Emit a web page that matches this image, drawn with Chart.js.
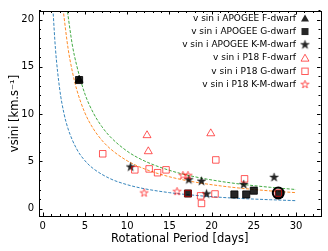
<!DOCTYPE html>
<html>
<head>
<meta charset="utf-8">
<script src="https://cdn.jsdelivr.net/npm/chart.js@4.4.0/dist/chart.umd.min.js"></script>
<style>
  html, body { margin: 0; padding: 0; background: #fff; }
</style>
</head>
<body>
<canvas id="vsiniChart" width="328" height="251"></canvas>
<script>
// axis ticks
const xTicks = [0, 5, 10, 15, 20, 25, 30];
const yTicks = [0, 5, 10, 15, 20];

// APOGEE measurements (rotation period in days, vsini in km/s)
const apogeeF_P = [4.3];
const apogeeF_v = [13.6];
const apogeeG_P = [4.3, 17.2, 22.7, 24.1, 25.0, 28.0];
const apogeeG_v = [13.6, 1.6, 1.5, 1.5, 1.9, 1.55];
const apogeeKM_P = [10.4, 17.3, 18.8, 19.4, 23.8, 27.4];
const apogeeKM_v = [4.4, 3.05, 2.9, 1.55, 2.55, 3.3];

// P18 measurements
const p18F_P = [12.35, 12.5, 19.9];
const p18F_v = [7.75, 6.05, 7.95];
const p18G_P = [7.1, 10.9, 12.6, 13.6, 14.6, 17.2, 18.7, 18.8, 20.4, 20.5, 23.9, 27.9];
const p18G_v = [5.8, 4.1, 4.2, 3.8, 4.1, 1.6, 1.35, 0.55, 1.55, 5.15, 3.15, 1.65];
const p18KM_P = [12.0, 15.9, 16.6, 17.2];
const p18KM_v = [1.65, 1.8, 3.5, 3.5];

// circled star
const circled_P = [27.9];
const circled_v = [1.65];

// dashed reference curves
const blueCurve_P = [1.2, 1.5, 2, 2.5, 3, 4, 5, 6, 8, 10, 12, 15, 18, 21, 24, 27, 30];
const blueCurve_v = [21.1, 16.9, 12.65, 10.1, 8.43, 6.33, 5.06, 4.22, 3.16, 2.53, 2.11, 1.69, 1.41, 1.2, 1.05, 0.94, 0.84];
const orangeCurve_P = [2.4, 3, 3.5, 4, 5, 6, 7, 8, 10, 12, 15, 18, 21, 24, 27, 30];
const orangeCurve_v = [21.1, 16.9, 14.5, 12.65, 10.1, 8.43, 7.23, 6.33, 5.06, 4.22, 3.37, 2.81, 2.41, 2.11, 1.87, 1.69];
const greenCurve_P = [2.85, 3.5, 4, 5, 6, 7, 8, 10, 12, 15, 18, 21, 24, 27, 30];
const greenCurve_v = [21.3, 17.3, 15.2, 12.1, 10.1, 8.67, 7.59, 6.07, 5.06, 4.05, 3.37, 2.89, 2.53, 2.25, 2.02];

const legendLabels = [
    'v sin i APOGEE F-dwarf',
    'v sin i APOGEE G-dwarf',
    'v sin i APOGEE K-M-dwarf',
    'v sin i P18 F-dwarf',
    'v sin i P18 G-dwarf',
    'v sin i P18 K-M-dwarf'
];

const BLACK = 'rgba(0,0,0,0.85)';
const RED = 'rgba(255,0,0,0.65)';

function toPoints(xs, ys) {
    return xs.map((x, i) => ({ x: x, y: ys[i] }));
}

// five point star like matplotlib '*'
function starPath(ctx, cx, cy, r) {
    ctx.beginPath();
    for (let i = 0; i < 10; i++) {
        const rr = i % 2 === 0 ? r : r * 0.382;
        const a = -Math.PI / 2 + i * Math.PI / 5;
        const px = cx + rr * Math.cos(a);
        const py = cy + rr * Math.sin(a);
        if (i === 0) ctx.moveTo(px, py); else ctx.lineTo(px, py);
    }
    ctx.closePath();
}

function starCanvas(r, fill, stroke, lw) {
    const size = Math.ceil(2 * r + 2 * lw + 2);
    const c = document.createElement('canvas');
    c.width = size;
    c.height = size;
    const ctx = c.getContext('2d');
    starPath(ctx, size / 2, size / 2, r);
    if (fill) { ctx.fillStyle = fill; ctx.fill(); }
    if (stroke) { ctx.strokeStyle = stroke; ctx.lineWidth = lw; ctx.stroke(); }
    return c;
}

const blackStar = starCanvas(4.6, BLACK, BLACK, 0.5);
const redStar = starCanvas(4.2, null, RED, 1);

function curveDataset(xs, ys, color) {
    return {
        type: 'line',
        data: toPoints(xs, ys),
        borderColor: color,
        borderWidth: 0.9,
        borderDash: [3, 1.6],
        pointRadius: 0,
        showLine: true,
        fill: false,
        cubicInterpolationMode: 'monotone',
        order: 10
    };
}

// inward ticks on all four sides + axes box
const frameTicks = {
    id: 'frameTicks',
    afterDatasetsDraw(chart) {
        const ctx = chart.ctx;
        const a = chart.chartArea;
        const xs = chart.scales.x;
        const ys = chart.scales.y;
        ctx.save();
        ctx.strokeStyle = '#000';
        ctx.lineWidth = 1;
        ctx.beginPath();
        for (let v = -0; v <= 33; v += 1) {
            const px = Math.round(xs.getPixelForValue(v)) + 0.5;
            const len = v % 5 === 0 ? 3.5 : 2;
            ctx.moveTo(px, a.bottom); ctx.lineTo(px, a.bottom - len);
            ctx.moveTo(px, a.top); ctx.lineTo(px, a.top + len);
        }
        for (let v = 0; v <= 21; v += 1) {
            const py = Math.round(ys.getPixelForValue(v)) + 0.5;
            const len = v % 5 === 0 ? 3.5 : 2;
            ctx.moveTo(a.left, py); ctx.lineTo(a.left + len, py);
            ctx.moveTo(a.right, py); ctx.lineTo(a.right - len, py);
        }
        ctx.stroke();
        ctx.strokeRect(Math.round(a.left) + 0.5, Math.round(a.top) + 0.5,
            Math.round(a.right - a.left), Math.round(a.bottom - a.top));
        ctx.restore();
    }
};

function drawTriangle(ctx, x, y, r) {
    ctx.beginPath();
    ctx.moveTo(x, y - r);
    ctx.lineTo(x + r * 0.866, y + r * 0.5);
    ctx.lineTo(x - r * 0.866, y + r * 0.5);
    ctx.closePath();
}

// legend in the upper right corner, markers after the text
const cornerLegend = {
    id: 'cornerLegend',
    afterDraw(chart) {
        const ctx = chart.ctx;
        const textRight = 296;
        const markX = 305;
        const y0 = 18.3;
        const step = 13.25;
        ctx.save();
        ctx.font = '9px "DejaVu Sans"';
        ctx.fillStyle = '#000';
        ctx.textAlign = 'right';
        ctx.textBaseline = 'middle';
        legendLabels.forEach((lab, i) => {
            const y = y0 + i * step;
            ctx.fillStyle = '#000';
            ctx.fillText(lab, textRight, y);
            ctx.lineWidth = 1;
            if (i === 0) {
                drawTriangle(ctx, markX, y + 0.8, 4.6);
                ctx.fillStyle = BLACK; ctx.fill();
            } else if (i === 1) {
                ctx.fillStyle = BLACK; ctx.fillRect(markX - 3.5, y - 3.5, 7, 7);
            } else if (i === 2) {
                ctx.drawImage(blackStar, markX - blackStar.width / 2, y - blackStar.height / 2);
            } else if (i === 3) {
                drawTriangle(ctx, markX, y + 0.8, 4.6);
                ctx.strokeStyle = RED; ctx.stroke();
            } else if (i === 4) {
                ctx.strokeStyle = RED; ctx.strokeRect(markX - 3.2, y - 3.2, 6.4, 6.4);
            } else {
                ctx.drawImage(redStar, markX - redStar.width / 2, y - redStar.height / 2);
            }
        });
        ctx.restore();
    }
};

Chart.defaults.font.family = '"DejaVu Sans"';
Chart.defaults.color = '#000';

const ctx = document.getElementById('vsiniChart').getContext('2d');
new Chart(ctx, {
    type: 'scatter',
    data: {
        datasets: [
            curveDataset(blueCurve_P, blueCurve_v, '#1f77b4'),
            curveDataset(orangeCurve_P, orangeCurve_v, '#ff7f0e'),
            curveDataset(greenCurve_P, greenCurve_v, '#2ca02c'),
            {
                label: legendLabels[0],
                data: toPoints(apogeeF_P, apogeeF_v),
                pointStyle: 'triangle',
                pointRadius: 4.6,
                backgroundColor: BLACK,
                borderColor: BLACK,
                borderWidth: 1,
                order: 6
            },
            {
                label: legendLabels[1],
                data: toPoints(apogeeG_P, apogeeG_v),
                pointStyle: 'rect',
                pointRadius: 5,
                backgroundColor: BLACK,
                borderColor: BLACK,
                borderWidth: 1,
                order: 5
            },
            {
                label: legendLabels[2],
                data: toPoints(apogeeKM_P, apogeeKM_v),
                pointStyle: blackStar,
                pointRadius: 4.6,
                order: 5
            },
            {
                label: legendLabels[3],
                data: toPoints(p18F_P, p18F_v),
                pointStyle: 'triangle',
                pointRadius: 4.6,
                backgroundColor: 'rgba(0,0,0,0)',
                borderColor: RED,
                borderWidth: 1,
                order: 3
            },
            {
                label: legendLabels[4],
                data: toPoints(p18G_P, p18G_v),
                pointStyle: 'rect',
                pointRadius: 4.6,
                backgroundColor: 'rgba(0,0,0,0)',
                borderColor: RED,
                borderWidth: 1,
                order: 3
            },
            {
                label: legendLabels[5],
                data: toPoints(p18KM_P, p18KM_v),
                pointStyle: redStar,
                pointRadius: 4.2,
                order: 3
            },
            {
                data: toPoints(circled_P, circled_v),
                pointStyle: 'circle',
                pointRadius: 5.5,
                backgroundColor: 'rgba(0,0,0,0)',
                borderColor: '#000',
                borderWidth: 2,
                order: 1
            }
        ]
    },
    options: {
        responsive: false,
        animation: false,
        events: [],
        devicePixelRatio: 1,
        layout: {
            padding: { top: 6, right: 7, left: 0, bottom: 0 }
        },
        plugins: {
            legend: { display: false },
            tooltip: { enabled: false }
        },
        scales: {
            x: {
                type: 'linear',
                min: -0.45,
                max: 32.9,
                afterFit: function(scale) { scale.height = 35; },
                afterBuildTicks: function(scale) {
                    scale.ticks = xTicks.map(v => ({ value: v }));
                },
                grid: { display: false, drawTicks: false },
                border: { display: false },
                ticks: {
                    font: { size: 10 },
                    padding: 4,
                    maxRotation: 0
                },
                title: {
                    display: true,
                    text: 'Rotational Period [days]',
                    font: { size: 11.5 },
                    padding: { top: 0, bottom: 5 }
                }
            },
            y: {
                type: 'linear',
                min: -0.78,
                max: 20.9,
                afterFit: function(scale) { scale.width = 39; },
                afterBuildTicks: function(scale) {
                    scale.ticks = yTicks.map(v => ({ value: v }));
                },
                grid: { display: false, drawTicks: false },
                border: { display: false },
                ticks: {
                    font: { size: 10 },
                    padding: 5
                },
                title: {
                    display: true,
                    text: 'vsini [km.s⁻¹]',
                    font: { size: 11.5 },
                    padding: { top: 8, bottom: 0 }
                }
            }
        }
    },
    plugins: [frameTicks, cornerLegend]
});
</script>
</body>
</html>
